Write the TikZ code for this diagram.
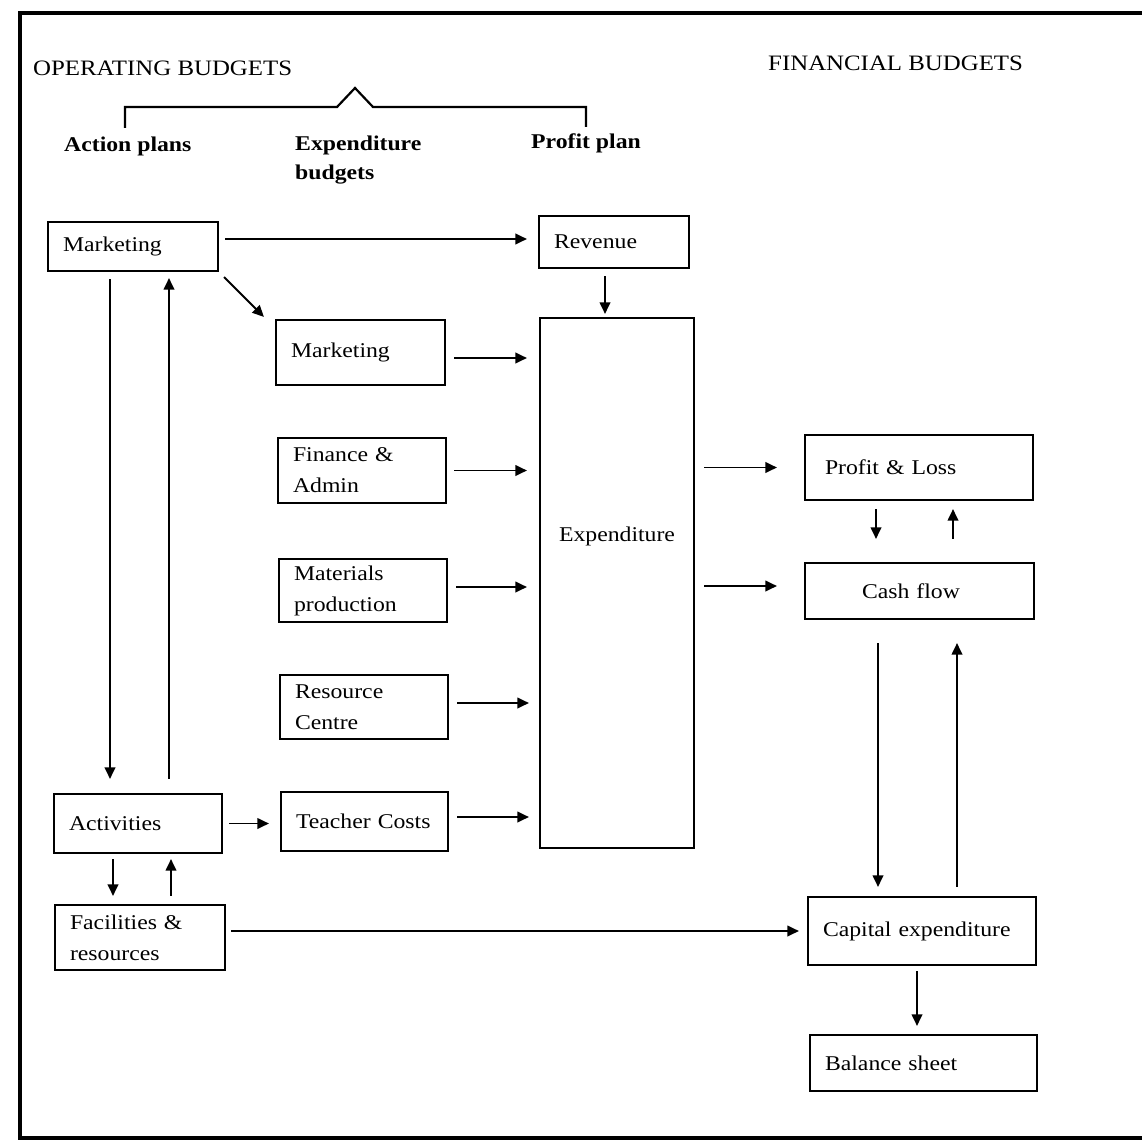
\documentclass[tikz,border=0pt]{standalone}
\usepackage{fontspec}
\setmainfont[FakeStretch=1.13]{Liberation Serif}
\usetikzlibrary{arrows.meta}
\begin{document}
\begin{tikzpicture}[x=1pt,y=-1pt,
  every node/.style={font=\fontsize{21}{31}\selectfont},
  box/.style={draw, line width=2.1pt, inner xsep=15pt, inner ysep=0pt, align=left},
  arr/.style={line width=1.9pt, -{Triangle[length=11.5pt,width=10.5pt]}},
  hd/.style={font=\fontsize{21}{29}\selectfont\bfseries, inner sep=0pt, anchor=west, align=left},
  title/.style={font=\fontsize{22}{26}\selectfont, inner sep=0pt, anchor=west}]
\useasboundingbox (0,0) rectangle (1142,1142);
\fill[white] (0,0) rectangle (1142,1142);
% frame
\draw[line width=3.5pt] (1150,13) -- (20,13) -- (20,1138) -- (1150,1138);
% headings
\node[title] (opb) at (33,68) {OPERATING BUDGETS};
\node[title] (fnb) at (768,63) {FINANCIAL BUDGETS};
\node[hd] (ap) at (64,146) {Action plans};
\node[hd] (eb) at (295,160) {Expenditure\\budgets};
\node[hd] (pp) at (531,143) {Profit plan};
\draw[line width=2.2pt] (125,128) -- (125,107) -- (337,107) -- (355,88) -- (373,107) -- (586,107) -- (586,127);
% boxes
\node[box, minimum height=49pt, text width=140pt] (mk1) at (133,246.5) {Marketing};
\node[box, minimum height=52pt, text width=120pt] (rev) at (614,242) {Revenue};
\node[box, minimum height=65pt, text width=139pt] (mk2) at (360.5,352.5) {\raisebox{-5pt}{Marketing}};
\node[box, minimum height=65pt, text width=138pt] (fin) at (362,470.5) {Finance \&\\Admin};
\node[box, minimum height=63pt, text width=138pt] (mat) at (363,590.5) {Materials\\production};
\node[box, minimum height=64pt, text width=138pt] (res) at (364,707) {Resource\\Centre};
\node[box, minimum height=59pt, text width=137pt] (tea) at (364.5,821.5) {Teacher Costs};
\node[box, minimum height=530pt, minimum width=154pt] (exp) at (617,583) {};
\node (expl) at (617,536) {Expenditure};
\node[box, inner xsep=20pt, minimum height=65pt, text width=188pt] (pl) at (919,467.5) {Profit \& Loss};
\node[box, inner xsep=57pt, minimum height=56pt, text width=115pt] (cf) at (919.5,591) {Cash flow};
\node[box, minimum height=59pt, text width=138pt] (act) at (138,823.5) {Activities};
\node[box, minimum height=65pt, text width=140pt] (fac) at (140,937.5) {Facilities \&\\resources};
\node[box, minimum height=68pt, text width=198pt] (cap) at (922,931) {Capital expenditure};
\node[box, minimum height=56pt, text width=197pt] (bal) at (923.5,1063) {Balance sheet};
% helper coordinates
\coordinate (m1e) at ([yshift=7.5pt]mk1.east);
\coordinate (dg) at ([xshift=-11pt,yshift=2pt]mk2.north west);
\coordinate (revd) at ([xshift=-9pt]rev.south);
\coordinate (m1d) at ([xshift=-23pt]mk1.south);
\coordinate (m1u) at ([xshift=36pt]mk1.south);
\coordinate (e2) at ([yshift=-5.5pt]mk2.east);
\coordinate (e4) at ([yshift=3.5pt]mat.east);
\coordinate (e5) at ([yshift=4pt]res.east);
\coordinate (e6) at ([yshift=4.5pt]tea.east);
\coordinate (cfw) at ([yshift=5pt]cf.west);
\coordinate (pld) at ([xshift=-43pt]pl.south);
\coordinate (plu) at ([xshift=34pt]pl.south);
\coordinate (cfd) at ([xshift=-41.5pt]cf.south);
\coordinate (cfu) at ([xshift=37.5pt]cf.south);
\coordinate (ad) at ([xshift=-25pt]act.south);
\coordinate (au) at ([xshift=33pt]act.south);
\coordinate (cd) at ([xshift=-5pt]cap.south);
% connectors
\draw[arr, shorten <=6pt, shorten >=11pt] (m1e) -- (m1e -| rev.west);
\draw[arr, shorten <=7pt] (mk1.south east) -- (dg);
\draw[arr, shorten <=7pt, shorten >=3pt] (revd) -- (revd |- exp.north);
\draw[arr, shorten <=7pt, shorten >=14pt] (m1d) -- (m1d |- act.north);
\draw[arr, shorten <=14pt, shorten >=6pt] (m1u |- act.north) -- (m1u);
\draw[arr, shorten <=8pt, shorten >=12pt] (e2) -- (e2 -| exp.west);
\draw[arr, shorten <=7pt, shorten >=12pt] (fin.east) -- (fin.east -| exp.west);
\draw[arr, shorten <=8pt, shorten >=12pt] (e4) -- (e4 -| exp.west);
\draw[arr, shorten <=8pt, shorten >=10pt] (e5) -- (e5 -| exp.west);
\draw[arr, shorten <=8pt, shorten >=10pt] (e6) -- (e6 -| exp.west);
\draw[arr, shorten <=9pt, shorten >=27pt] (exp.east |- pl.west) -- (pl.west);
\draw[arr, shorten <=9pt, shorten >=27pt] (exp.east |- cfw) -- (cfw);
\draw[arr, shorten <=8pt, shorten >=23pt] (pld) -- (pld |- cf.north);
\draw[arr, shorten <=23pt, shorten >=8pt] (plu |- cf.north) -- (plu);
\draw[arr, shorten <=23pt, shorten >=9pt] (cfd) -- (cfd |- cap.north);
\draw[arr, shorten <=9pt, shorten >=23pt] (cfu |- cap.north) -- (cfu);
\draw[arr, shorten <=6pt, shorten >=11pt] (act.east) -- (act.east -| tea.west);
\draw[arr, shorten <=5pt, shorten >=8pt] (ad) -- (ad |- fac.north);
\draw[arr, shorten <=8pt, shorten >=5pt] (au |- fac.north) -- (au);
\draw[arr, shorten <=5pt, shorten >=8pt] (fac.east |- cap.west) -- (cap.west);
\draw[arr, shorten <=5pt, shorten >=8pt] (cd) -- (cd |- bal.north);
\end{tikzpicture}
\end{document}
